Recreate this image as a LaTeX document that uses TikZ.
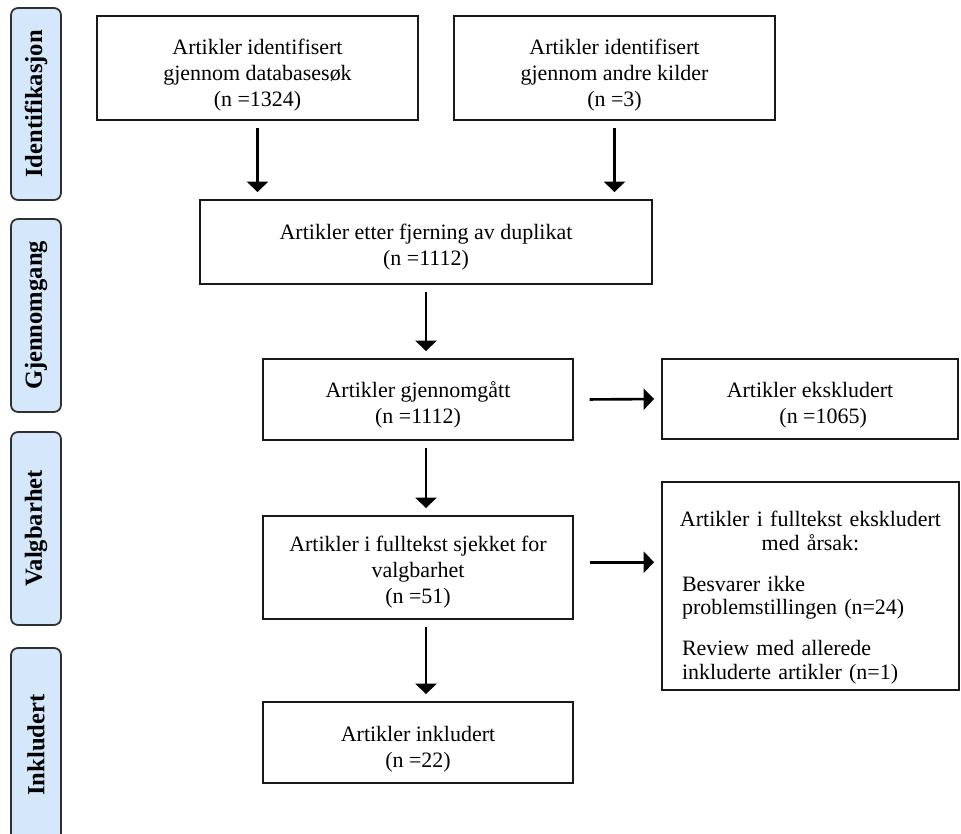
\documentclass[tikz,border=0pt]{standalone}
\usepackage{fontspec}
\setmainfont{Liberation Serif}
\usepackage{tikz}
\usetikzlibrary{arrows.meta}

\definecolor{phasefill}{HTML}{D5E8FB}
\definecolor{phaseline}{HTML}{303030}
\newcommand{\topgap}[1]{\rule{0pt}{#1}}

\begin{document}
\begin{tikzpicture}[x=0.02cm,y=-0.02cm,
                every path/.style={>={Triangle[width=12pt,length=6pt]}},
                box/.style={draw=black!90,line width=1pt,inner sep=0pt,align=center,
                            font=\fontsize{12.5}{14.8}\selectfont},
                phase/.style={draw=phaseline,fill=phasefill,line width=1pt,rounded corners=4pt,
                              rotate=90,inner sep=0pt,minimum height=1cm,
                              font=\fontsize{14}{15}\selectfont\bfseries},
                flow/.style={line width=1.5pt,shorten <=4pt,shorten >=4pt}]
  \useasboundingbox (0,0) rectangle (961,834);
  \clip (0,0) rectangle (961,834);
  % phases
  \node[phase,minimum width=3.84cm] (p1) at (36,104) {Identifikasjon};
  \node[phase,minimum width=3.86cm] (p2) at (36,315.5) {Gjennomgang};
  \node[phase,minimum width=3.86cm] (p3) at (36,528.5) {Valgbarhet};
  \node[phase,minimum width=3.88cm] (p4) at (36,745) {Inkludert};
  % boxes
  \node[box,minimum width=6.42cm,minimum height=2.08cm] (a) at (257.5,68)
       {\topgap{17pt}Artikler identifisert\\ gjennom databasesøk\\ (n =1324)};
  \node[box,minimum width=6.42cm,minimum height=2.08cm] (b) at (614.5,68)
       {\topgap{17pt}Artikler identifisert\\ gjennom andre kilder\\ (n =3)};
  \node[box,minimum width=9.04cm,minimum height=1.68cm] (c) at (426,242)
       {\topgap{15pt}Artikler etter fjerning av duplikat\\ (n =1112)};
  \node[box,minimum width=6.2cm,minimum height=1.62cm] (d) at (418,399.5)
       {\topgap{15pt}Artikler gjennomgått\\ (n =1112)};
  \node[box,minimum width=5.92cm,minimum height=1.6cm] (e) at (810,399)
       {\topgap{16pt}Artikler ekskludert\\ \hspace*{1.2em}(n =1065)};
  \node[box,minimum width=6.2cm,minimum height=2.06cm] (f) at (418,567.5)
       {\topgap{14pt}Artikler i fulltekst sjekket for\\ valgbarhet\\ (n =51)};
  \node[box,minimum width=5.94cm,minimum height=4.16cm,text width=5.14cm,align=left,
        font=\fontsize{12.5}{13.4}\selectfont] (g) at (810.5,586)
       {\makebox[\linewidth][c]{\topgap{22pt}Artikler i fulltekst ekskludert}\\
        \makebox[\linewidth][c]{med årsak:}\par\vspace{10pt}
        Besvarer ikke\\ problemstillingen (n=24)\par\vspace{10pt}
        Review med allerede\\ inkluderte artikler (n=1)};
  \node[box,minimum width=6.2cm,minimum height=1.62cm] (h) at (418,742.5)
       {\topgap{16pt}Artikler inkludert\\ (n =22)};
  % arrows
  \draw[flow,->] (a.south) -- (a.south |- c.north);
  \draw[flow,->] (b.south) -- (b.south |- c.north);
  \draw[flow,->] (c.south) -- (c.south |- d.north);
  \draw[flow,->] (d.south -| c.south) -- (f.north -| c.south);
  \draw[flow,->] (f.south -| c.south) -- (h.north -| c.south);
  \draw[flow,->] ([xshift=5pt]d.east) -- (e.west);
  \draw[flow,->] ([xshift=5pt,yshift=3pt]f.east) -- ([yshift=3pt]f.east -| g.west);
\end{tikzpicture}
\end{document}
